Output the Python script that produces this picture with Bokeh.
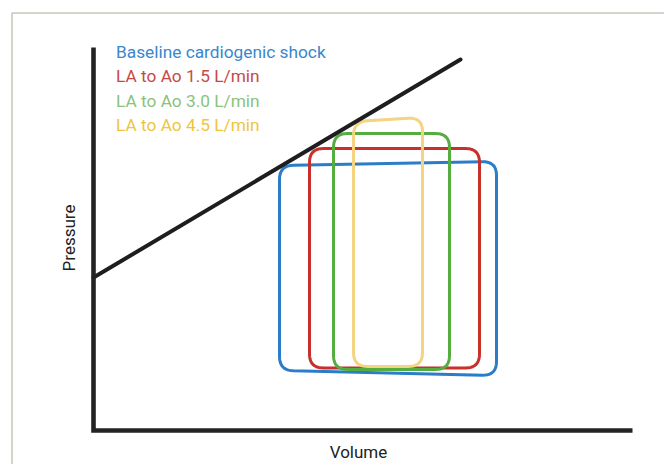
import math
from bokeh.plotting import figure
from bokeh.models import Range1d
from bokeh.embed import file_html
from bokeh.resources import INLINE
from bokeh.core.properties import value

# ---------------- data ----------------
loop_names = ["Baseline cardiogenic shock", "LA to Ao 1.5 L/min",
              "LA to Ao 3.0 L/min", "LA to Ao 4.5 L/min"]
# volumes (left / right edge of each PV loop)
esv = [74.4, 86.4, 96.0, 104.0]
edv = [161.2, 154.4, 142.4, 131.6]
# pressures at the four corners: top-left, top-right, bottom-right, bottom-left
p_top_left = [106.0, 112.8, 118.8, 123.6]
p_top_right = [107.6, 112.8, 118.8, 125.2]
p_bot_right = [22.0, 25.0, 24.4, 25.6]
p_bot_left = [24.0, 25.0, 24.4, 25.6]

# end-systolic pressure-volume relation line
espvr_volume = [0.0, 146.8]
espvr_pressure = [61.2, 148.4]

axis_volume_max = 215.6
axis_pressure_max = 153.2

# ---------------- styles ----------------
loop_colors = ["#2b7dc8", "#c8302c", "#55ad3f", "#f4d382"]
text_colors = ["#3a87cb", "#c64a44", "#8bc27b", "#efc53c"]
FONT = "Roboto"

X0, X1 = -37.2, 228.4
Y0, Y1 = -13.6, 172.0

p = figure(width=664, height=464, x_range=Range1d(X0, X1), y_range=Range1d(Y0, Y1),
           output_backend="svg", toolbar_location=None, title=None,
           x_axis_type=None, y_axis_type=None, min_border=0)
p.grid.visible = False
p.outline_line_color = None
p.background_fill_color = "white"
p.border_fill_color = "white"

# decorative page frame (left and top edges)
bx = X0 + 4.6
by = Y1 - 5.0
p.line([bx, bx, X1 + 10], [Y0 - 10, by, by], line_color="#c8c9bb", line_width=1.6)


def rounded_path(cx, cy, r, n=10):
    xs, ys = [], []
    k = len(cx)
    for i in range(k):
        px, py = cx[i - 1], cy[i - 1]
        qx, qy = cx[i], cy[i]
        nx, ny = cx[(i + 1) % k], cy[(i + 1) % k]
        d1 = math.hypot(px - qx, py - qy)
        d2 = math.hypot(nx - qx, ny - qy)
        ax, ay = qx + r * (px - qx) / d1, qy + r * (py - qy) / d1
        bx_, by_ = qx + r * (nx - qx) / d2, qy + r * (ny - qy) / d2
        for j in range(n + 1):
            t = j / n
            xs.append((1 - t) ** 2 * ax + 2 * t * (1 - t) * qx + t ** 2 * bx_)
            ys.append((1 - t) ** 2 * ay + 2 * t * (1 - t) * qy + t ** 2 * by_)
    xs.append(xs[0])
    ys.append(ys[0])
    return xs, ys


radius = 5.6
for i in range(len(loop_names)):
    cx = [esv[i], edv[i], edv[i], esv[i]]
    cy = [p_top_left[i], p_top_right[i], p_bot_right[i], p_bot_left[i]]
    xs, ys = rounded_path(cx, cy, radius)
    p.line(xs, ys, line_color=loop_colors[i], line_width=3, line_join="round")

# ESPVR line
p.line(espvr_volume, espvr_pressure, line_color="#1e1e1e", line_width=4, line_cap="round")

# axes
p.line([0, 0, axis_volume_max], [axis_pressure_max, 0, 0], line_color="#232323",
       line_width=4.6, line_join="miter")

# legend text
legend_y = [151.4, 141.7, 132.0, 122.4]
p.text(x=[9.0] * 4, y=legend_y, text=loop_names, text_color=text_colors,
       text_font=value(FONT), text_font_size="17.3px", text_baseline="alphabetic",
       text_align="left")

# axis titles
p.text(x=[106.0], y=[-8.4], text=["Volume"], text_font=value(FONT), text_font_size="17px",
       text_color="#222222", text_align="center", text_baseline="middle")
p.text(x=[-9.8], y=[77.0], text=["Pressure"], text_font=value(FONT), text_font_size="17px",
       text_color="#222222", text_align="center", text_baseline="middle", angle=math.pi / 2)

open("out.html", "w").write(file_html(p, INLINE))
